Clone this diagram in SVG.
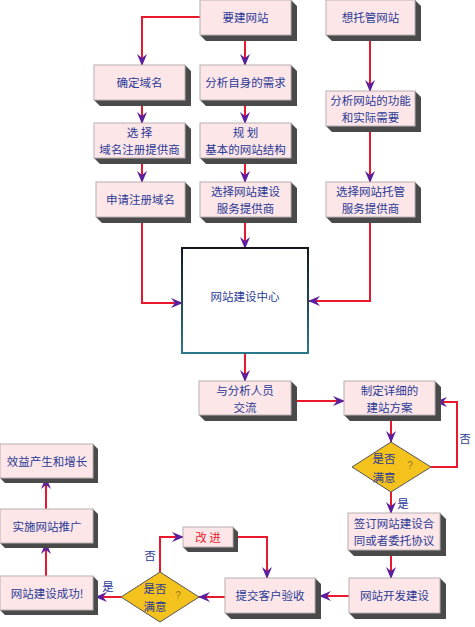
<svg xmlns="http://www.w3.org/2000/svg" width="475" height="627" viewBox="0 0 475 627">
<defs>
<style>
.box{fill:#fce6e8;stroke:#b8b0b4;stroke-width:1}
.sh{fill:#4a4a4a}
.t{font-family:"Noto Sans CJK SC","Noto Sans",sans-serif;font-size:11.5px;fill:#2b3a96;text-anchor:middle;dominant-baseline:central}
.red{fill:#e8202a}
.q{font-family:"Liberation Sans",sans-serif;font-size:10px;fill:#a07828;text-anchor:middle;dominant-baseline:central}
.dia{fill:#f3c21c;stroke:#555;stroke-width:1}
.c{fill:none;stroke:#e8192c;stroke-width:2;marker-end:url(#ah)}
</style>
<marker id="ah" markerUnits="userSpaceOnUse" markerWidth="12" markerHeight="10" refX="11" refY="5" orient="auto">
<path d="M0,0 L12,5 L0,10 L4,5 Z" fill="#5b1f9e"/>
</marker>
<linearGradient id="cg" x1="0" y1="0" x2="0" y2="1">
<stop offset="0" stop-color="#151520"/>
<stop offset="1" stop-color="#2a7a8c"/>
</linearGradient>
</defs>
<rect width="475" height="627" fill="#ffffff"/>

<g id="connectors">
<path class="c" d="M200,17 H142 V65"/>
<path class="c" d="M245,35 V65"/>
<path class="c" d="M370,35 V91"/>
<path class="c" d="M142,100 V123"/>
<path class="c" d="M142,158 V182"/>
<path class="c" d="M245,100 V123"/>
<path class="c" d="M245,158 V182"/>
<path class="c" d="M370,126 V182"/>
<path class="c" d="M142,217 V303 H182"/>
<path class="c" d="M370,217 V301 H309"/>
<path class="c" d="M245,217 V248"/>
<path class="c" d="M245,353 V381"/>
<path class="c" d="M296,401 H344"/>
<path class="c" d="M391,415 V442"/>
<path class="c" d="M431,467 H457 V402 H436"/>
<path class="c" d="M391,492 V513"/>
<path class="c" d="M391,550 V578"/>
<path class="c" d="M349,596 H320"/>
<path class="c" d="M225,597 H199"/>
<path class="c" d="M121,597 H96"/>
<path class="c" d="M160,572 V537 H183"/>
<path class="c" d="M236,537 H267 V578"/>
<path class="c" d="M46,576 V543"/>
<path class="c" d="M46,509 V478"/>
</g>

<g id="n1"><path class="sh" d="M291,0 L297,6 V41 H206 L200,35 H291 Z"/><rect class="box" x="200" y="0" width="91" height="35"/><text class="t" x="245.5" y="17">要建网站</text></g>
<g id="n2"><path class="sh" d="M415,0 L421,6 V41 H332 L326,35 H415 Z"/><rect class="box" x="326" y="0" width="89" height="35"/><text class="t" x="370.5" y="17">想托管网站</text></g>
<g id="n3"><path class="sh" d="M185,65 L191,71 V106 H100 L94,100 H185 Z"/><rect class="box" x="94" y="65" width="91" height="35"/><text class="t" x="139.5" y="82">确定域名</text></g>
<g id="n4"><path class="sh" d="M291,65 L297,71 V106 H206 L200,100 H291 Z"/><rect class="box" x="200" y="65" width="91" height="35"/><text class="t" x="245.5" y="82">分析自身的需求</text></g>
<g id="n5"><path class="sh" d="M185,123 L191,129 V164 H100 L94,158 H185 Z"/><rect class="box" x="94" y="123" width="91" height="35"/><text class="t" x="139.5" y="131.5">选 择</text><text class="t" x="139.5" y="148.5">域名注册提供商</text></g>
<g id="n6"><path class="sh" d="M291,123 L297,129 V164 H206 L200,158 H291 Z"/><rect class="box" x="200" y="123" width="91" height="35"/><text class="t" x="245.5" y="131.5">规 划</text><text class="t" x="245.5" y="148.5">基本的网站结构</text></g>
<g id="n7"><path class="sh" d="M185,182 L191,188 V223 H102 L96,217 H185 Z"/><rect class="box" x="96" y="182" width="89" height="35"/><text class="t" x="140.5" y="199">申请注册域名</text></g>
<g id="n8"><path class="sh" d="M291,182 L297,188 V223 H206 L200,217 H291 Z"/><rect class="box" x="200" y="182" width="91" height="35"/><text class="t" x="245.5" y="190.5">选择网站建设</text><text class="t" x="245.5" y="207.5">服务提供商</text></g>
<g id="n9"><path class="sh" d="M415,91 L421,97 V132 H332 L326,126 H415 Z"/><rect class="box" x="326" y="91" width="89" height="35"/><text class="t" x="370.5" y="99.5">分析网站的功能</text><text class="t" x="370.5" y="116.5">和实际需要</text></g>
<g id="n10"><path class="sh" d="M415,182 L421,188 V223 H332 L326,217 H415 Z"/><rect class="box" x="326" y="182" width="89" height="35"/><text class="t" x="370.5" y="190.5">选择网站托管</text><text class="t" x="370.5" y="207.5">服务提供商</text></g>

<g id="center"><rect x="182" y="248" width="126" height="105" fill="#ffffff" stroke="url(#cg)" stroke-width="2"/><text class="t" x="245" y="296">网站建设中心</text></g>

<g id="n12"><path class="sh" d="M291,381 L297,387 V421 H205 L199,415 H291 Z"/><rect class="box" x="199" y="381" width="92" height="34"/><text class="t" x="245" y="389.5">与分析人员</text><text class="t" x="245" y="406.5">交流</text></g>
<g id="n13"><path class="sh" d="M435,381 L441,387 V421 H350 L344,415 H435 Z"/><rect class="box" x="344" y="381" width="91" height="34"/><text class="t" x="389.5" y="389.5">制定详细的</text><text class="t" x="389.5" y="406.5">建站方案</text></g>

<g id="d1"><polygon class="dia" points="391,442 431,467 391,492 352,467"/><text class="t" x="384" y="458">是否</text><text class="t" x="384" y="477">满意</text><text class="q" x="410" y="465">?</text></g>
<g id="lbl1"><text class="t" x="465" y="438">否</text><text class="t" x="403" y="503">是</text></g>

<g id="n15"><path class="sh" d="M440,513 L446,519 V556 H354 L348,550 H440 Z"/><rect class="box" x="348" y="513" width="92" height="37"/><text class="t" x="394" y="523">签订网站建设合</text><text class="t" x="394" y="540">同或者委托协议</text></g>
<g id="n16"><path class="sh" d="M440,578 L446,584 V619 H355 L349,613 H440 Z"/><rect class="box" x="349" y="578" width="91" height="35"/><text class="t" x="394.5" y="595">网站开发建设</text></g>
<g id="n17"><path class="sh" d="M315,578 L321,584 V619 H231 L225,613 H315 Z"/><rect class="box" x="225" y="578" width="90" height="35"/><text class="t" x="270" y="595">提交客户验收</text></g>

<g id="d2"><polygon class="dia" points="160,572 199,597 160,622 121,597"/><text class="t" x="155" y="588">是否</text><text class="t" x="155" y="606">满意</text><text class="q" x="178" y="595">?</text></g>
<g id="lbl2"><text class="t" x="150" y="555">否</text><text class="t" x="108" y="586">是</text></g>

<g id="n19"><path class="sh" d="M233,527 L238,532 V552 H188 L183,547 H233 Z"/><rect class="box" x="183" y="527" width="50" height="20"/><text class="t red" x="208" y="537">改 进</text></g>
<g id="n20"><path class="sh" d="M93,576 L98,581 V615 H5 L0,610 H93 Z"/><rect class="box" x="0" y="576" width="93" height="34"/><text class="t" x="47" y="593">网站建设成功!</text></g>
<g id="n21"><path class="sh" d="M93,509 L98,514 V548 H5 L0,543 H93 Z"/><rect class="box" x="0" y="509" width="93" height="34"/><text class="t" x="47" y="526">实施网站推广</text></g>
<g id="n22"><path class="sh" d="M93,444 L98,449 V483 H5 L0,478 H93 Z"/><rect class="box" x="0" y="444" width="93" height="34"/><text class="t" x="47" y="461">效益产生和增长</text></g>
</svg>
